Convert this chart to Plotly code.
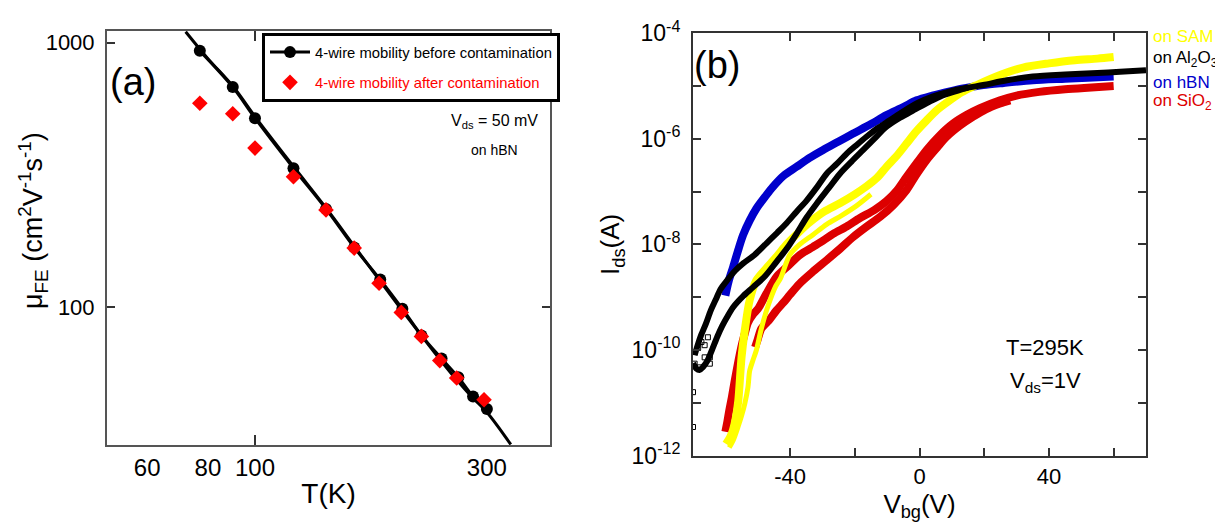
import plotly.graph_objects as go

FONT = "Liberation Sans, Arial, sans-serif"

# ---------------- panel (a): field-effect mobility vs temperature ----------------
T_before = [77, 90, 100, 120, 140, 160, 181, 201, 220, 242, 262, 281, 300]
mu_before = [931, 679, 518, 335, 235, 168, 127, 98.5, 78.1, 63.8, 54.2, 45.9, 41.1]

T_after = [77, 90, 100, 120, 140, 160, 180, 200, 220, 240, 260, 296]
mu_after = [590, 538, 399, 311, 233, 167, 123, 95.4, 77.4, 62.7, 53.9, 44.6]

# guide curve through the "before" data
T_fit = [72, 80, 90, 100, 120, 140, 160, 180, 200, 220, 240, 260, 280, 300, 336]
mu_fit = [1100, 870, 685, 525, 340, 237, 170, 127, 98, 78, 63.5, 53, 45.5, 40, 30.2]

# ---------------- panel (b): transfer curves at 295 K (log10 of I_ds in A) --------
V_hbn = [-60, -59, -57.6, -56, -54.5, -52.5, -50.4, -47.5, -45.3, -42, -38, -34, -29.8,
         -25, -20.5, -15, -10.2, -5, -0.9, 4, 9.4, 14, 19.7, 26, 35, 45, 52, 60]
logI_hbn = [-8.97, -8.7, -8.43, -8.1, -7.82, -7.55, -7.32, -7.08, -6.91, -6.7, -6.53, -6.36,
            -6.21, -6.05, -5.90, -5.72, -5.55, -5.40, -5.27, -5.18, -5.10, -5.04, -4.98,
            -4.94, -4.89, -4.86, -4.84, -4.82]

V_al2o3_fwd = [-69.5, -68.5, -67.5, -66, -64.5, -63, -61.5, -59.7, -57, -54.5, -51, -47.3,
               -44, -41.1, -38, -34.9, -31.5, -28.7, -25.5, -22.5, -19.5, -16.4, -13, -9.2,
               -5, -0.9, 4, 9.4, 15, 19.7, 27, 35, 45, 55, 62, 70]
logI_al2o3_fwd = [-10.1, -9.9, -9.72, -9.5, -9.25, -9.05, -8.85, -8.7, -8.5, -8.36, -8.2,
                  -7.98, -7.78, -7.6, -7.38, -7.17, -6.9, -6.66, -6.47, -6.28, -6.12, -5.96,
                  -5.8, -5.65, -5.48, -5.33, -5.2, -5.1, -5.03, -4.98, -4.89, -4.82, -4.78,
                  -4.75, -4.73, -4.70]
V_al2o3_rev = [-70, -69, -68, -67, -65.5, -64, -62.5, -61, -59.5, -57.6, -54.5, -51.4, -47.7,
               -44.2, -41, -38, -35, -31.8, -28, -24.6, -21, -17.4, -14, -10.2, -6, -1.9, 2,
               6.3, 10, 15]
logI_al2o3_rev = [-10.25, -10.35, -10.38, -10.33, -10.2, -9.98, -9.75, -9.55, -9.38, -9.19,
                  -8.98, -8.81, -8.6, -8.33, -8.08, -7.80, -7.5, -7.23, -6.93, -6.66, -6.43,
                  -6.21, -6.0, -5.77, -5.6, -5.46, -5.33, -5.20, -5.12, -5.03]
V_al2o3_low = [-69.5, -68.4, -67.4, -66.4, -65.4, -64.8, -69.5, -67.9, -66.4, -64.8, -70, -70]
logI_al2o3_low = [-10.04, -9.95, -9.85, -9.91, -9.76, -10.14, -10.26, -10.33, -10.14, -10.26,
                  -10.80, -11.46]

V_sam_fwd = [-59.8, -58.5, -57.7, -56.8, -56, -55, -54, -52.5, -50.4, -47.3, -44, -41.1,
             -37.5, -33.9, -29.5, -24.6, -20, -16.4, -13, -10.2, -7, -4, -1, 2.2, 5.5, 9.4,
             13, 17.7, 24.9, 32, 40, 48, 55, 60]
logI_sam_fwd = [-11.78, -11.65, -11.53, -11.3, -10.96, -10.14, -9.63, -9.06, -8.68, -8.45,
                -8.22, -8.0, -7.78, -7.58, -7.38, -7.22, -7.05, -6.9, -6.73, -6.53, -6.32,
                -6.09, -5.86, -5.65, -5.45, -5.27, -5.12, -4.98, -4.79, -4.65, -4.57, -4.51,
                -4.48, -4.45]
V_sam_rev = [-58.8, -57.5, -56.1, -55, -54, -53, -52.5, -51.5, -50.4, -48.9, -47, -44.5, -43,
             -40.1, -37, -33, -28.7, -24, -19.5, -15]
logI_sam_rev = [-11.85, -11.7, -11.46, -11.25, -11.02, -10.7, -10.4, -10.2, -10.0, -9.6, -9.2,
                -8.8, -8.65, -8.2, -8.0, -7.82, -7.62, -7.45, -7.27, -7.05]

V_sio2_fwd = [-60, -59.5, -58.8, -58, -57.1, -56.3, -55.5, -54.7, -54, -53, -51.5, -49.9,
              -47.3, -44, -40.5, -37, -33, -29.8, -26.7, -22.5, -18.4, -14, -10.2, -7, -4, -1,
              2.2, 6, 10.4, 14.5, 18.7, 24.9, 30, 37, 45, 52, 60]
logI_sio2_fwd = [-11.55, -11.4, -11.15, -10.9, -10.58, -10.32, -10.07, -9.85, -9.69, -9.48,
                 -9.33, -9.22, -8.93, -8.6, -8.4, -8.2, -8.05, -7.93, -7.8, -7.66, -7.5,
                 -7.35, -7.18, -6.98, -6.72, -6.47, -6.21, -5.95, -5.71, -5.55, -5.42, -5.27,
                 -5.18, -5.11, -5.06, -5.03, -5.0]
V_sio2_rev = [-50.8, -50, -48.9, -47.5, -46.3, -44.2, -42, -40, -37, -33, -28.7, -24.5, -20.5,
              -16.5, -12.2, -8, -4, -1, 2.2, 5.5, 8.4, 12.5, 16.6, 20.5, 24.9, 28]
logI_sio2_rev = [-9.95, -9.8, -9.6, -9.5, -9.42, -9.25, -9.1, -8.95, -8.74, -8.52, -8.30,
                 -8.08, -7.86, -7.67, -7.48, -7.25, -6.97, -6.68, -6.40, -6.16, -5.96, -5.75,
                 -5.58, -5.44, -5.33, -5.27]

labels_b = ["on SAM", "on Al<sub>2</sub>O<sub>3</sub>", "on hBN", "on SiO<sub>2</sub>"]
colors_b = ["#ffff00", "#000000", "#0000cc", "#dd0000"]

x_ticks_a = [60, 80, 100, 300]
y_ticks_a = [100, 1000]
x_ticks_b = [-40, 0, 40]
x_minor_b = [-20, 20, 60]
y_exp_b = [-12, -10, -8, -6, -4]
y_minor_exp_b = [-11, -9, -7, -5]


def amps(logs):
    return [10 ** v for v in logs]


fig = go.Figure()

# panel (a)
fig.add_trace(go.Scatter(x=T_fit, y=mu_fit, mode="lines", line=dict(color="black", width=3, shape="spline"),
                         showlegend=False, xaxis="x", yaxis="y", hoverinfo="skip"))
fig.add_trace(go.Scatter(x=T_before, y=mu_before, mode="lines+markers",
                         name="4-wire mobility before contamination", legendgroup="a1",
                         line=dict(color="black", width=3, shape="spline"),
                         marker=dict(symbol="circle", size=12, color="black"),
                         xaxis="x", yaxis="y"))
fig.add_trace(go.Scatter(x=T_after, y=mu_after, mode="markers",
                         name='<span style="color:#ff0000">4-wire mobility after contamination</span>',
                         legendgroup="a2",
                         marker=dict(symbol="diamond", size=12, color="#ff0000"),
                         xaxis="x", yaxis="y"))

# panel (b)
curves_b = [
    (V_hbn, logI_hbn, colors_b[2], 8),
    (V_sio2_fwd, logI_sio2_fwd, colors_b[3], 8),
    (V_sio2_rev, logI_sio2_rev, colors_b[3], 8),
    (V_sam_fwd, logI_sam_fwd, colors_b[0], 8),
    (V_sam_rev, logI_sam_rev, colors_b[0], 5),
    (V_al2o3_fwd, logI_al2o3_fwd, colors_b[1], 6),
    (V_al2o3_rev, logI_al2o3_rev, colors_b[1], 6),
]
for vx, ly, col, w in curves_b:
    fig.add_trace(go.Scatter(x=vx, y=amps(ly), mode="lines",
                             line=dict(color=col, width=w, shape="spline", smoothing=0.8),
                             showlegend=False, xaxis="x2", yaxis="y2"))
fig.add_trace(go.Scatter(x=V_al2o3_low, y=amps(logI_al2o3_low), mode="markers",
                         marker=dict(symbol="square-open", size=5, color="black", line=dict(width=1)),
                         showlegend=False, xaxis="x2", yaxis="y2"))

axis_common = dict(showgrid=False, zeroline=False, showline=True, mirror="allticks",
                   ticks="inside", ticklen=8, tickwidth=1.5, tickcolor="#333", automargin=False)
minor_common = dict(tickmode="array", ticks="inside", ticklen=8, tickwidth=1.5, tickcolor="#333")

fig.update_layout(
    width=1215, height=527,
    margin=dict(l=0, r=0, t=0, b=0, autoexpand=False),
    paper_bgcolor="white", plot_bgcolor="white",
    font=dict(family=FONT, color="black"),
    xaxis=dict(**{**axis_common, "ticks": ""}, domain=[107 / 1215, 550 / 1215], anchor="y",
               type="log", range=[1.6955, 2.607], linecolor="#555", linewidth=2,
               tickmode="array", tickvals=x_ticks_a, ticktext=[str(v) for v in x_ticks_a],
               tickfont=dict(size=24),
               minor=dict(**{**minor_common, "ticklen": 10}, tickvals=[100]),
               title=dict(text="T(K)", font=dict(size=28), standoff=4)),
    yaxis=dict(**axis_common, domain=[1 - 445 / 527, 1 - 31 / 527], anchor="x",
               type="log", range=[1.478, 3.044], linecolor="#555", linewidth=2,
               tickmode="array", tickvals=y_ticks_a, ticktext=[str(v) for v in y_ticks_a],
               tickfont=dict(size=22), ticklabelstandoff=6),
    xaxis2=dict(**axis_common, domain=[693 / 1215, 1146 / 1215], anchor="y2",
                range=[-70, 70], linecolor="#333", linewidth=2,
                tickmode="array", tickvals=x_ticks_b, ticktext=[str(v) for v in x_ticks_b],
                minor=dict(**minor_common, tickvals=x_minor_b),
                tickfont=dict(size=22),
                title=dict(text="V<sub>bg</sub>(V)", font=dict(size=26), standoff=4)),
    yaxis2=dict(**axis_common, domain=[1 - 455.5 / 527, 1 - 33.3 / 527], anchor="x2",
                type="log", range=[-12, -4], linecolor="#333", linewidth=2,
                tickmode="array", tickvals=[10 ** e for e in y_exp_b],
                ticktext=[f"10<sup>{e}</sup>" for e in y_exp_b],
                minor=dict(**minor_common, tickvals=[10 ** e for e in y_minor_exp_b]),
                tickfont=dict(size=23), ticklabelstandoff=6,
                title=dict(text="I<sub>ds</sub>(A)", font=dict(size=26), standoff=4)),
    legend=dict(x=262 / 1215, y=1 - 33 / 527, xanchor="left", yanchor="top",
                bgcolor="white", bordercolor="black", borderwidth=3,
                font=dict(size=14.8, color="black"), traceorder="grouped",
                tracegroupgap=8, itemwidth=40),
    showlegend=True,
)

ann = [
    # y-axis title of panel (a), set slightly above the axis centre
    dict(text="μ<sub>FE</sub> (cm<sup>2</sup>V<sup>-1</sup>s<sup>-1</sup>)", x=33 / 1215, y=1 - 221 / 527,
         xanchor="center", yanchor="middle", textangle=-90, font=dict(size=27)),
    dict(text="(a)", x=108 / 1215, y=1 - 82 / 527, xanchor="left", yanchor="middle", font=dict(size=38)),
    dict(text="V<sub>ds</sub> = 50 mV", x=494 / 1215, y=1 - 122 / 527, xanchor="center", yanchor="middle",
         font=dict(size=16)),
    dict(text="on hBN", x=494 / 1215, y=1 - 150 / 527, xanchor="center", yanchor="middle", font=dict(size=14)),
    dict(text="(b)", x=692 / 1215, y=1 - 65 / 527, xanchor="left", yanchor="middle", font=dict(size=38)),
    dict(text="T=295K", x=1045 / 1215, y=1 - 347 / 527, xanchor="center", yanchor="middle", font=dict(size=22)),
    dict(text="V<sub>ds</sub>=1V", x=1045 / 1215, y=1 - 382 / 527, xanchor="center", yanchor="middle",
         font=dict(size=22)),
]
for i, (lab, col) in enumerate(zip(labels_b, colors_b)):
    ann.append(dict(text=lab, x=1151 / 1215, y=1 - [37, 59, 82, 102][i] / 527, xanchor="left",
                    yanchor="middle", font=dict(size=17, color=col)))
for a in ann:
    a.update(xref="paper", yref="paper", showarrow=False)
    a.setdefault("font", {}).setdefault("family", FONT)
fig.update_layout(annotations=ann)

fig.write_html("out.html")
